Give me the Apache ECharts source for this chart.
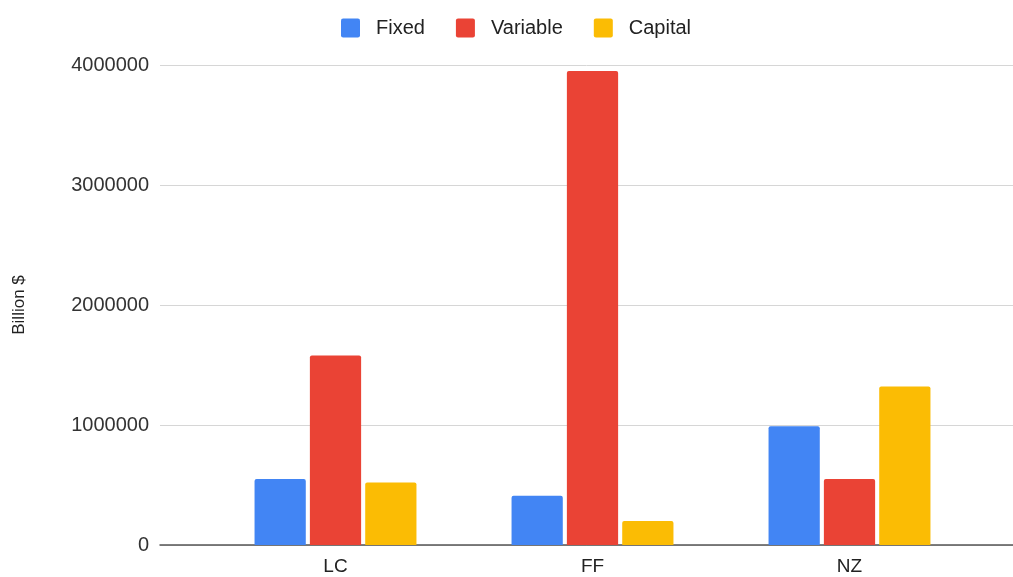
<!DOCTYPE html>
<html>
<head>
<meta charset="utf-8">
<script src="https://cdn.jsdelivr.net/npm/echarts@6/dist/echarts.min.js"></script>
<style>
  html, body { margin: 0; padding: 0; background: #ffffff; }
  #chart { width: 1013px; height: 577px; }
</style>
</head>
<body>
<div id="chart"></div>
<script>
// Cost breakdown per scenario
const categories = ['LC', 'FF', 'NZ'];
const fixed = [550000, 410000, 990000];
const variable = [1580000, 3950000, 550000];
const capital = [520000, 200000, 1320000];
const yTicks = [0, 1000000, 2000000, 3000000, 4000000];

const FONT = '"Liberation Sans", Arial, sans-serif';
const chart = echarts.init(document.getElementById('chart'));

const yMin = yTicks[0];
const yMax = yTicks[yTicks.length - 1];
const yStep = yTicks[1] - yTicks[0];

function bar(name, data, color) {
  return {
    name: name,
    type: 'bar',
    xAxisIndex: 1,
    yAxisIndex: 1,
    data: data,
    barGap: '8%',
    barCategoryGap: '37%',
    itemStyle: { color: color, borderRadius: [2, 2, 0, 0] },
    emphasis: { disabled: true }
  };
}

chart.setOption({
  animation: false,
  color: ['#4285F4', '#EA4335', '#FBBC04'],
  legend: {
    left: 336,
    top: 13,
    itemWidth: 19,
    itemHeight: 19,
    itemGap: 31,
    icon: 'path://M2,0 H16 Q18,0 18,2 V16 Q18,18 16,18 H2 Q0,18 0,16 V2 Q0,0 2,0 Z',
    data: ['Fixed', 'Variable', 'Capital'],
    textStyle: { fontFamily: FONT, fontSize: 20, color: '#222222', padding: [0, 0, 0, 11] }
  },
  grid: [
    // full-width frame: gridlines, y labels and baseline
    { left: 160, right: 0, top: 65, bottom: 32 },
    // bar area
    { left: 207, width: 771, top: 65, bottom: 32 }
  ],
  xAxis: [
    {
      gridIndex: 0,
      type: 'category',
      data: [''],
      axisLine: { show: true, lineStyle: { color: '#555555', width: 1.5 } },
      axisTick: { show: false },
      axisLabel: { show: false }
    },
    {
      gridIndex: 1,
      type: 'category',
      data: categories,
      axisLine: { show: false },
      axisTick: { show: false },
      axisLabel: { fontFamily: FONT, fontSize: 19, color: '#222222', margin: 12 }
    }
  ],
  yAxis: [
    {
      gridIndex: 0,
      type: 'value',
      min: yMin,
      max: yMax,
      interval: yStep,
      name: 'Billion $',
      nameLocation: 'middle',
      nameGap: 132,
      nameTextStyle: { fontFamily: FONT, fontSize: 17, color: '#222222' },
      axisLine: { show: false },
      axisTick: { show: false },
      axisLabel: {
        fontFamily: FONT, fontSize: 20, color: '#333333', margin: 11,
        formatter: function (v) { return String(v); }
      },
      splitLine: { lineStyle: { color: '#d6d6d6', width: 1 } }
    },
    {
      gridIndex: 1,
      type: 'value',
      min: yMin,
      max: yMax,
      interval: yStep,
      show: false,
      splitLine: { show: false }
    }
  ],
  series: [
    bar('Fixed', fixed, '#4285F4'),
    bar('Variable', variable, '#EA4335'),
    bar('Capital', capital, '#FBBC04')
  ]
});
</script>
</body>
</html>
